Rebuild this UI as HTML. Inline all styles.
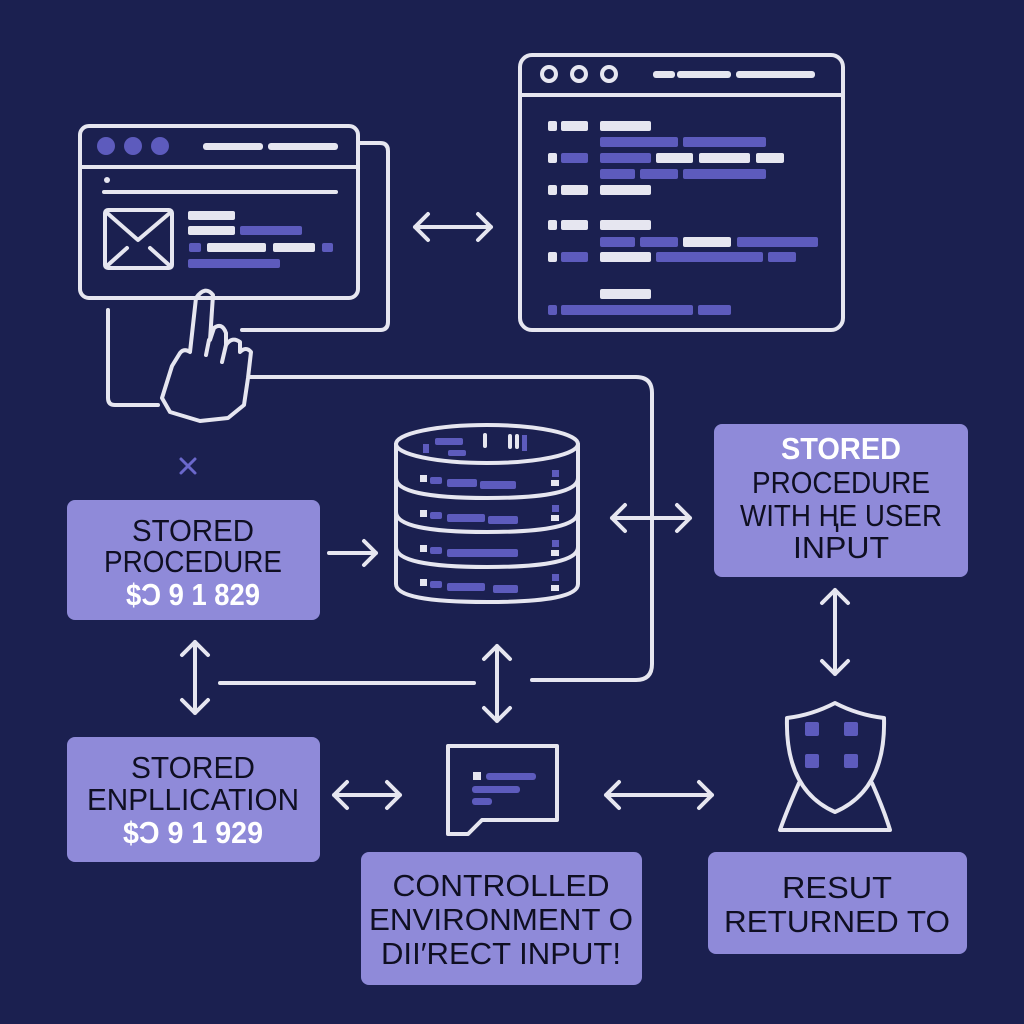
<!DOCTYPE html>
<html><head><meta charset="utf-8"><style>
html,body{margin:0;padding:0;background:#1b2050;}
svg{display:block}
text{font-family:"Liberation Sans",Arial,sans-serif;}
</style></head><body>
<svg width="1024" height="1024" viewBox="0 0 1024 1024" xmlns="http://www.w3.org/2000/svg">
<rect width="1024" height="1024" fill="#1b2050"/>
<g fill="none" stroke="#e6e6f0" stroke-width="4" stroke-linecap="round" stroke-linejoin="round">
<rect x="80" y="126" width="278" height="172" rx="9"/>
<line x1="82" y1="167" x2="356" y2="167"/>
<path d="M358 143 H380 Q388 143 388 151 V322 Q388 330 380 330 H242"/>
<path d="M108 310 V398 Q108 405 115 405 H158"/>
<line x1="104" y1="192" x2="336" y2="192"/>
<rect x="105" y="210" width="67" height="58" rx="3"/>
<path d="M106 212 L138 240 L171 212 M108 265 L127 248 M169 265 L150 248"/>
<path d="M196 298 Q205 285 213 295 L210 340 L214 328 Q222 322 226 333 L226 345 Q232 336 240 342 L240 352 Q246 346 251 352 L248 378 L244 405 L228 418 L200 421 L170 412 L162 398 L172 366 L180 353 Q184 348 190 352 Z"/>
<path d="M209 340 L206 355 M226 345 L222 362"/>
<path d="M250 377 H636 Q652 377 652 393 V664 Q652 680 636 680 H532"/>
<line x1="220" y1="683" x2="474" y2="683"/>
<rect x="520" y="55" width="323" height="275" rx="12"/>
<line x1="522" y1="95" x2="841" y2="95"/>
<circle cx="549" cy="74" r="7"/><circle cx="579" cy="74" r="7"/><circle cx="609" cy="74" r="7"/>
<ellipse cx="487" cy="444" rx="91" ry="19"/>
<path d="M396 444 V584 Q396 602 487 602 Q578 602 578 584 V444"/>
<path d="M396 478 Q396 498 487 498 Q578 498 578 478"/>
<path d="M396 512 Q396 532 487 532 Q578 532 578 512"/>
<path d="M396 547 Q396 567 487 567 Q578 567 578 547"/>
<path d="M415 227 H491 M428 214 L415 227 L428 240 M478 214 L491 227 L478 240"/>
<path d="M329 553 H376 M364 541 L376 553 L364 565"/>
<path d="M612 518 H690 M625 505 L612 518 L625 531 M677 505 L690 518 L677 531"/>
<path d="M195 642 V713 M182 655 L195 642 L208 655 M182 700 L195 713 L208 700"/>
<path d="M497 646 V721 M484 659 L497 646 L510 659 M484 708 L497 721 L510 708"/>
<path d="M835 590 V674 M822 603 L835 590 L848 603 M822 661 L835 674 L848 661"/>
<path d="M334 795 H400 M347 782 L334 795 L347 808 M387 782 L400 795 L387 808"/>
<path d="M606 795 H712 M619 782 L606 795 L619 808 M699 782 L712 795 L699 808"/>
<path d="M448 746 H557 V820 H482 L468 834 H448 Z"/>
<path d="M835 703 Q812 715 787 718 Q785 790 835 812 Q886 790 884 718 Q858 715 835 703 Z"/>
<path d="M799 783 Q787 810 780 830 H890 Q884 810 872 783"/>
</g>
<g fill="#5d5bbd">
<circle cx="106" cy="146" r="9"/><circle cx="133" cy="146" r="9"/><circle cx="160" cy="146" r="9"/>
<rect x="240" y="226" width="62" height="9" rx="2"/>
<rect x="189" y="243" width="12" height="9" rx="2"/>
<rect x="322" y="243" width="11" height="9" rx="2"/>
<rect x="188" y="259" width="92" height="9" rx="2"/>
<rect x="600" y="137" width="78" height="10" rx="2"/><rect x="683" y="137" width="83" height="10" rx="2"/>
<rect x="561" y="153" width="27" height="10" rx="2"/><rect x="600" y="153" width="51" height="10" rx="2"/>
<rect x="600" y="169" width="35" height="10" rx="2"/><rect x="640" y="169" width="38" height="10" rx="2"/><rect x="683" y="169" width="83" height="10" rx="2"/>
<rect x="600" y="237" width="35" height="10" rx="2"/><rect x="640" y="237" width="38" height="10" rx="2"/><rect x="737" y="237" width="81" height="10" rx="2"/>
<rect x="561" y="252" width="27" height="10" rx="2"/><rect x="656" y="252" width="107" height="10" rx="2"/><rect x="768" y="252" width="28" height="10" rx="2"/>
<rect x="548" y="305" width="9" height="10" rx="2"/><rect x="561" y="305" width="132" height="10" rx="2"/><rect x="698" y="305" width="33" height="10" rx="2"/>
<rect x="435" y="438" width="28" height="7" rx="2"/><rect x="448" y="450" width="18" height="6" rx="2"/><rect x="423" y="444" width="6" height="9"/><rect x="522" y="435" width="5" height="16"/>
<rect x="430" y="477" width="12" height="7" rx="2"/><rect x="447" y="479" width="30" height="8" rx="2"/><rect x="480" y="481" width="36" height="8" rx="2"/><rect x="552" y="470" width="7" height="7"/>
<rect x="430" y="512" width="12" height="7" rx="2"/><rect x="447" y="514" width="38" height="8" rx="2"/><rect x="488" y="516" width="30" height="8" rx="2"/><rect x="552" y="505" width="7" height="7"/>
<rect x="430" y="547" width="12" height="7" rx="2"/><rect x="447" y="549" width="71" height="8" rx="2"/><rect x="552" y="540" width="7" height="7"/>
<rect x="430" y="581" width="12" height="7" rx="2"/><rect x="447" y="583" width="38" height="8" rx="2"/><rect x="493" y="585" width="25" height="8" rx="2"/><rect x="552" y="574" width="7" height="7"/>
<rect x="486" y="773" width="50" height="7" rx="3"/><rect x="472" y="786" width="48" height="7" rx="3"/><rect x="472" y="798" width="20" height="7" rx="3"/>
<rect x="805" y="722" width="14" height="14" rx="2"/><rect x="844" y="722" width="14" height="14" rx="2"/>
<rect x="805" y="754" width="14" height="14" rx="2"/><rect x="844" y="754" width="14" height="14" rx="2"/>
</g>
<g fill="#e6e6f0">
<rect x="203" y="143" width="60" height="7" rx="3"/><rect x="268" y="143" width="70" height="7" rx="3"/>
<circle cx="107" cy="180" r="3"/>
<rect x="188" y="211" width="47" height="9" rx="2"/><rect x="188" y="226" width="47" height="9" rx="2"/>
<rect x="207" y="243" width="59" height="9" rx="2"/><rect x="273" y="243" width="42" height="9" rx="2"/>
<rect x="653" y="71" width="22" height="7" rx="3"/><rect x="677" y="71" width="54" height="7" rx="3"/><rect x="736" y="71" width="79" height="7" rx="3"/>
<rect x="548" y="121" width="9" height="10" rx="2"/><rect x="561" y="121" width="27" height="10" rx="2"/><rect x="600" y="121" width="51" height="10" rx="2"/>
<rect x="548" y="153" width="9" height="10" rx="2"/><rect x="656" y="153" width="37" height="10" rx="2"/><rect x="699" y="153" width="51" height="10" rx="2"/><rect x="756" y="153" width="28" height="10" rx="2"/>
<rect x="548" y="185" width="9" height="10" rx="2"/><rect x="561" y="185" width="27" height="10" rx="2"/><rect x="600" y="185" width="51" height="10" rx="2"/>
<rect x="548" y="220" width="9" height="10" rx="2"/><rect x="561" y="220" width="27" height="10" rx="2"/><rect x="600" y="220" width="51" height="10" rx="2"/>
<rect x="683" y="237" width="48" height="10" rx="2"/>
<rect x="548" y="252" width="9" height="10" rx="2"/><rect x="600" y="252" width="51" height="10" rx="2"/>
<rect x="600" y="289" width="51" height="10" rx="2"/>
<rect x="483" y="433" width="4" height="15" rx="2"/><rect x="508" y="434" width="4" height="15" rx="2"/><rect x="515" y="434" width="4" height="15" rx="2"/>
<rect x="420" y="475" width="7" height="7"/><rect x="420" y="510" width="7" height="7"/><rect x="420" y="545" width="7" height="7"/><rect x="420" y="579" width="7" height="7"/>
<rect x="551" y="480" width="8" height="6"/><rect x="551" y="515" width="8" height="6"/><rect x="551" y="550" width="8" height="6"/><rect x="551" y="585" width="8" height="6"/>
<rect x="473" y="772" width="8" height="8"/>
</g>
<path d="M181 459 L195 473 M195 459 L181 473" stroke="#6b68cc" stroke-width="3" stroke-linecap="round"/>
<g fill="#8f8ad9">
<rect x="67" y="500" width="253" height="120" rx="8"/>
<rect x="714" y="424" width="254" height="153" rx="8"/>
<rect x="67" y="737" width="253" height="125" rx="8"/>
<rect x="361" y="852" width="281" height="133" rx="8"/>
<rect x="708" y="852" width="259" height="102" rx="8"/>
</g>
<g fill="#0f0f22" font-size="31" text-anchor="middle">
<text x="193" y="541" textLength="122" lengthAdjust="spacingAndGlyphs">STORED</text>
<text x="193" y="572" textLength="178" lengthAdjust="spacingAndGlyphs">PROCEDURE</text>
<text x="193" y="605" fill="#ffffff" font-weight="bold" textLength="134" lengthAdjust="spacingAndGlyphs">$Ɔ 9 1 829</text>
<text x="841" y="459" fill="#ffffff" font-weight="bold" textLength="120" lengthAdjust="spacingAndGlyphs">STORED</text>
<text x="841" y="493" textLength="178" lengthAdjust="spacingAndGlyphs">PROCEDURE</text>
<text x="841" y="526" textLength="202" lengthAdjust="spacingAndGlyphs">WITH ⱧE USER</text>
<text x="841" y="558" textLength="96" lengthAdjust="spacingAndGlyphs">INPUT</text>
<text x="193" y="778" textLength="124" lengthAdjust="spacingAndGlyphs">STORED</text>
<text x="193" y="810" textLength="212" lengthAdjust="spacingAndGlyphs">ENPLLICATION</text>
<text x="193" y="843" fill="#ffffff" font-weight="bold" textLength="140" lengthAdjust="spacingAndGlyphs">$Ɔ 9 1 929</text>
<text x="501" y="896" textLength="217" lengthAdjust="spacingAndGlyphs">CONTROLLED</text>
<text x="501" y="930" textLength="264" lengthAdjust="spacingAndGlyphs">ENVIRONMENT O</text>
<text x="501" y="964" textLength="240" lengthAdjust="spacingAndGlyphs">DIІ′RECT INPUT!</text>
<text x="837" y="898" textLength="110" lengthAdjust="spacingAndGlyphs">RESUT</text>
<text x="837" y="932" textLength="226" lengthAdjust="spacingAndGlyphs">RETURNED TO</text>
</g>
</svg>
</body></html>
